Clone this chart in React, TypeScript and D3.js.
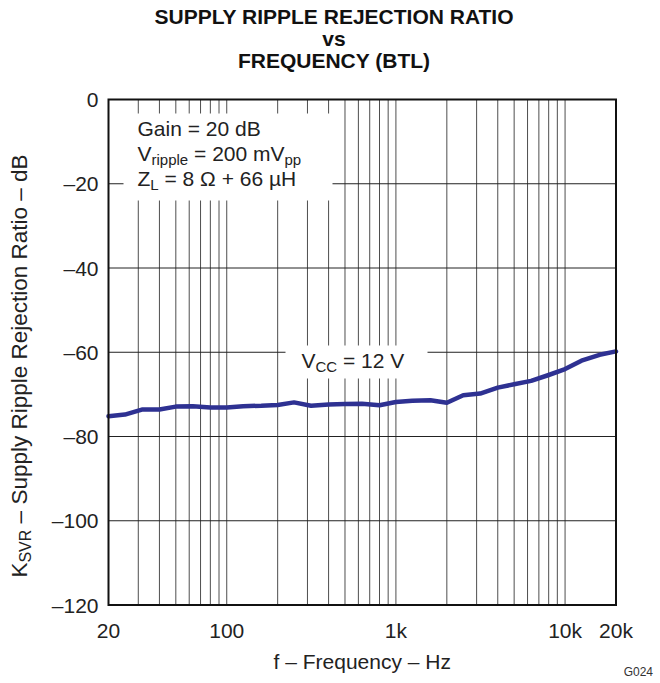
import { useEffect, useRef } from "react"
import * as d3 from "d3"

// 1/3-octave points (VCC = 12 V)
const freqs = [
  20, 25, 31.5, 40, 50, 63, 80, 100, 125, 160, 200, 250, 315, 400, 500, 630, 800,
  1000, 1250, 1600, 2000, 2500, 3150, 4000, 5000, 6300, 8000, 10000, 12500, 16000, 20000,
]
const ksvr = [
  -75.2, -74.8, -73.6, -73.6, -72.9, -72.8, -73.1, -73.1, -72.8, -72.7, -72.5, -71.9, -72.7,
  -72.4, -72.3, -72.2, -72.6, -71.8, -71.5, -71.4, -72.0, -70.2, -69.8, -68.4, -67.6, -66.8,
  -65.4, -64.0, -62.0, -60.6, -59.8,
]
const yTicks = [0, -20, -40, -60, -80, -100, -120]
const xTickValues = [20, 100, 1000, 10000, 20000]
const xTickLabels = ["20", "100", "1k", "10k", "20k"]
const titleLines = ["SUPPLY RIPPLE REJECTION RATIO", "vs", "FREQUENCY (BTL)"]

const FONT = "'Liberation Sans', Arial, Helvetica, sans-serif"

export default function App() {
  const svgRef = useRef(null)

  useEffect(() => {
    if (!svgRef.current) return
    const svg = d3.select(svgRef.current)
    svg.selectAll("*").remove()

    const width = 660
    const height = 683
    const margin = { top: 99.5, left: 108.5, right: 44, bottom: 78 }
    const innerWidth = width - margin.left - margin.right
    const innerHeight = height - margin.top - margin.bottom

    const x = d3.scaleLog().domain([20, 20000]).range([0, innerWidth])
    const y = d3.scaleLinear().domain([-120, 0]).range([innerHeight, 0])

    svg.attr("width", width).attr("height", height).attr("font-family", FONT)

    // title
    svg
      .append("g")
      .selectAll("text")
      .data(titleLines)
      .enter()
      .append("text")
      .attr("x", 334)
      .attr("y", (d, i) => 24 + i * 22)
      .attr("text-anchor", "middle")
      .attr("font-size", "21px")
      .attr("font-weight", "bold")
      .attr("fill", "#111")
      .text((d) => d)

    const g = svg.append("g").attr("transform", `translate(${margin.left},${margin.top})`)

    // grid
    const gridX = x.ticks().filter((d) => d > 20 && d < 20000)
    g.append("g")
      .selectAll("line")
      .data(gridX)
      .enter()
      .append("line")
      .attr("x1", (d) => x(d))
      .attr("x2", (d) => x(d))
      .attr("y1", 0)
      .attr("y2", innerHeight)
      .attr("stroke", "#3a3a3a")
      .attr("stroke-width", 0.9)

    g.append("g")
      .selectAll("line")
      .data(yTicks.filter((d) => d !== 0 && d !== -120))
      .enter()
      .append("line")
      .attr("x1", 0)
      .attr("x2", innerWidth)
      .attr("y1", (d) => y(d))
      .attr("y2", (d) => y(d))
      .attr("stroke", "#222")
      .attr("stroke-width", 1)

    // white boxes behind the annotations
    g.append("rect").attr("x", 15).attr("y", 14).attr("width", 209).attr("height", 87).attr("fill", "white")
    g.append("rect").attr("x", 177).attr("y", 246).attr("width", 142).attr("height", 33).attr("fill", "white")

    // annotation text
    const ann = g.append("g").attr("font-size", "21px").attr("fill", "#222")
    ann.append("text").attr("x", 29).attr("y", 36).text("Gain = 20 dB")
    const t2 = ann.append("text").attr("x", 29).attr("y", 61)
    t2.append("tspan").text("V")
    t2.append("tspan").attr("font-size", "15px").attr("dy", 4).text("ripple")
    t2.append("tspan").attr("dy", -4).text(" = 200 mV")
    t2.append("tspan").attr("font-size", "15px").attr("dy", 4).text("pp")
    const t3 = ann.append("text").attr("x", 29).attr("y", 86)
    t3.append("tspan").text("Z")
    t3.append("tspan").attr("font-size", "15px").attr("dy", 4).text("L")
    t3.append("tspan").attr("dy", -4).text(" = 8 \u03A9 + 66 \u00B5H")

    const t4 = ann.append("text").attr("x", 193).attr("y", 268)
    t4.append("tspan").text("V")
    t4.append("tspan").attr("font-size", "15px").attr("dy", 4).text("CC")
    t4.append("tspan").attr("dy", -4).text(" = 12 V")

    // curve
    const line = d3
      .line<number>()
      .x((d, i) => x(freqs[i]))
      .y((d) => y(d))
    g.append("path")
      .datum(ksvr)
      .attr("d", line)
      .attr("fill", "none")
      .attr("stroke", "#2e3192")
      .attr("stroke-width", 4.5)
      .attr("stroke-linejoin", "round")
      .attr("stroke-linecap", "round")

    // frame
    g.append("rect")
      .attr("x", 0)
      .attr("y", 0)
      .attr("width", innerWidth)
      .attr("height", innerHeight)
      .attr("fill", "none")
      .attr("stroke", "#111")
      .attr("stroke-width", 2)

    // y tick labels
    g.append("g")
      .selectAll("text")
      .data(yTicks)
      .enter()
      .append("text")
      .attr("x", -10)
      .attr("y", (d) => y(d))
      .attr("dy", "0.36em")
      .attr("text-anchor", "end")
      .attr("font-size", "21px")
      .attr("fill", "#222")
      .text((d) => (d < 0 ? "\u2013" + Math.abs(d) : String(d)))

    // x tick labels
    g.append("g")
      .selectAll("text")
      .data(xTickValues)
      .enter()
      .append("text")
      .attr("x", (d) => x(d))
      .attr("y", innerHeight + 33)
      .attr("text-anchor", "middle")
      .attr("font-size", "21px")
      .attr("fill", "#222")
      .text((d, i) => xTickLabels[i])

    // axis titles
    svg
      .append("text")
      .attr("x", margin.left + innerWidth / 2)
      .attr("y", 669)
      .attr("text-anchor", "middle")
      .attr("font-size", "21px")
      .attr("fill", "#222")
      .text("f \u2013 Frequency \u2013 Hz")

    const yt = svg
      .append("text")
      .attr("transform", `translate(27,366) rotate(-90)`)
      .attr("text-anchor", "middle")
      .attr("font-size", "22.5px")
      .attr("fill", "#222")
    yt.append("tspan").text("K")
    yt.append("tspan").attr("font-size", "16px").attr("dy", 4).text("SVR")
    yt.append("tspan").attr("dy", -4).text(" \u2013 Supply Ripple Rejection Ratio \u2013 dB")

    svg
      .append("text")
      .attr("x", 653)
      .attr("y", 676)
      .attr("text-anchor", "end")
      .attr("font-size", "12px")
      .attr("fill", "#333")
      .text("G024")
  }, [])

  return (
    <div>
      <svg ref={svgRef} style={{ position: "absolute", left: 0, top: 0 }}></svg>
    </div>
  )
}
